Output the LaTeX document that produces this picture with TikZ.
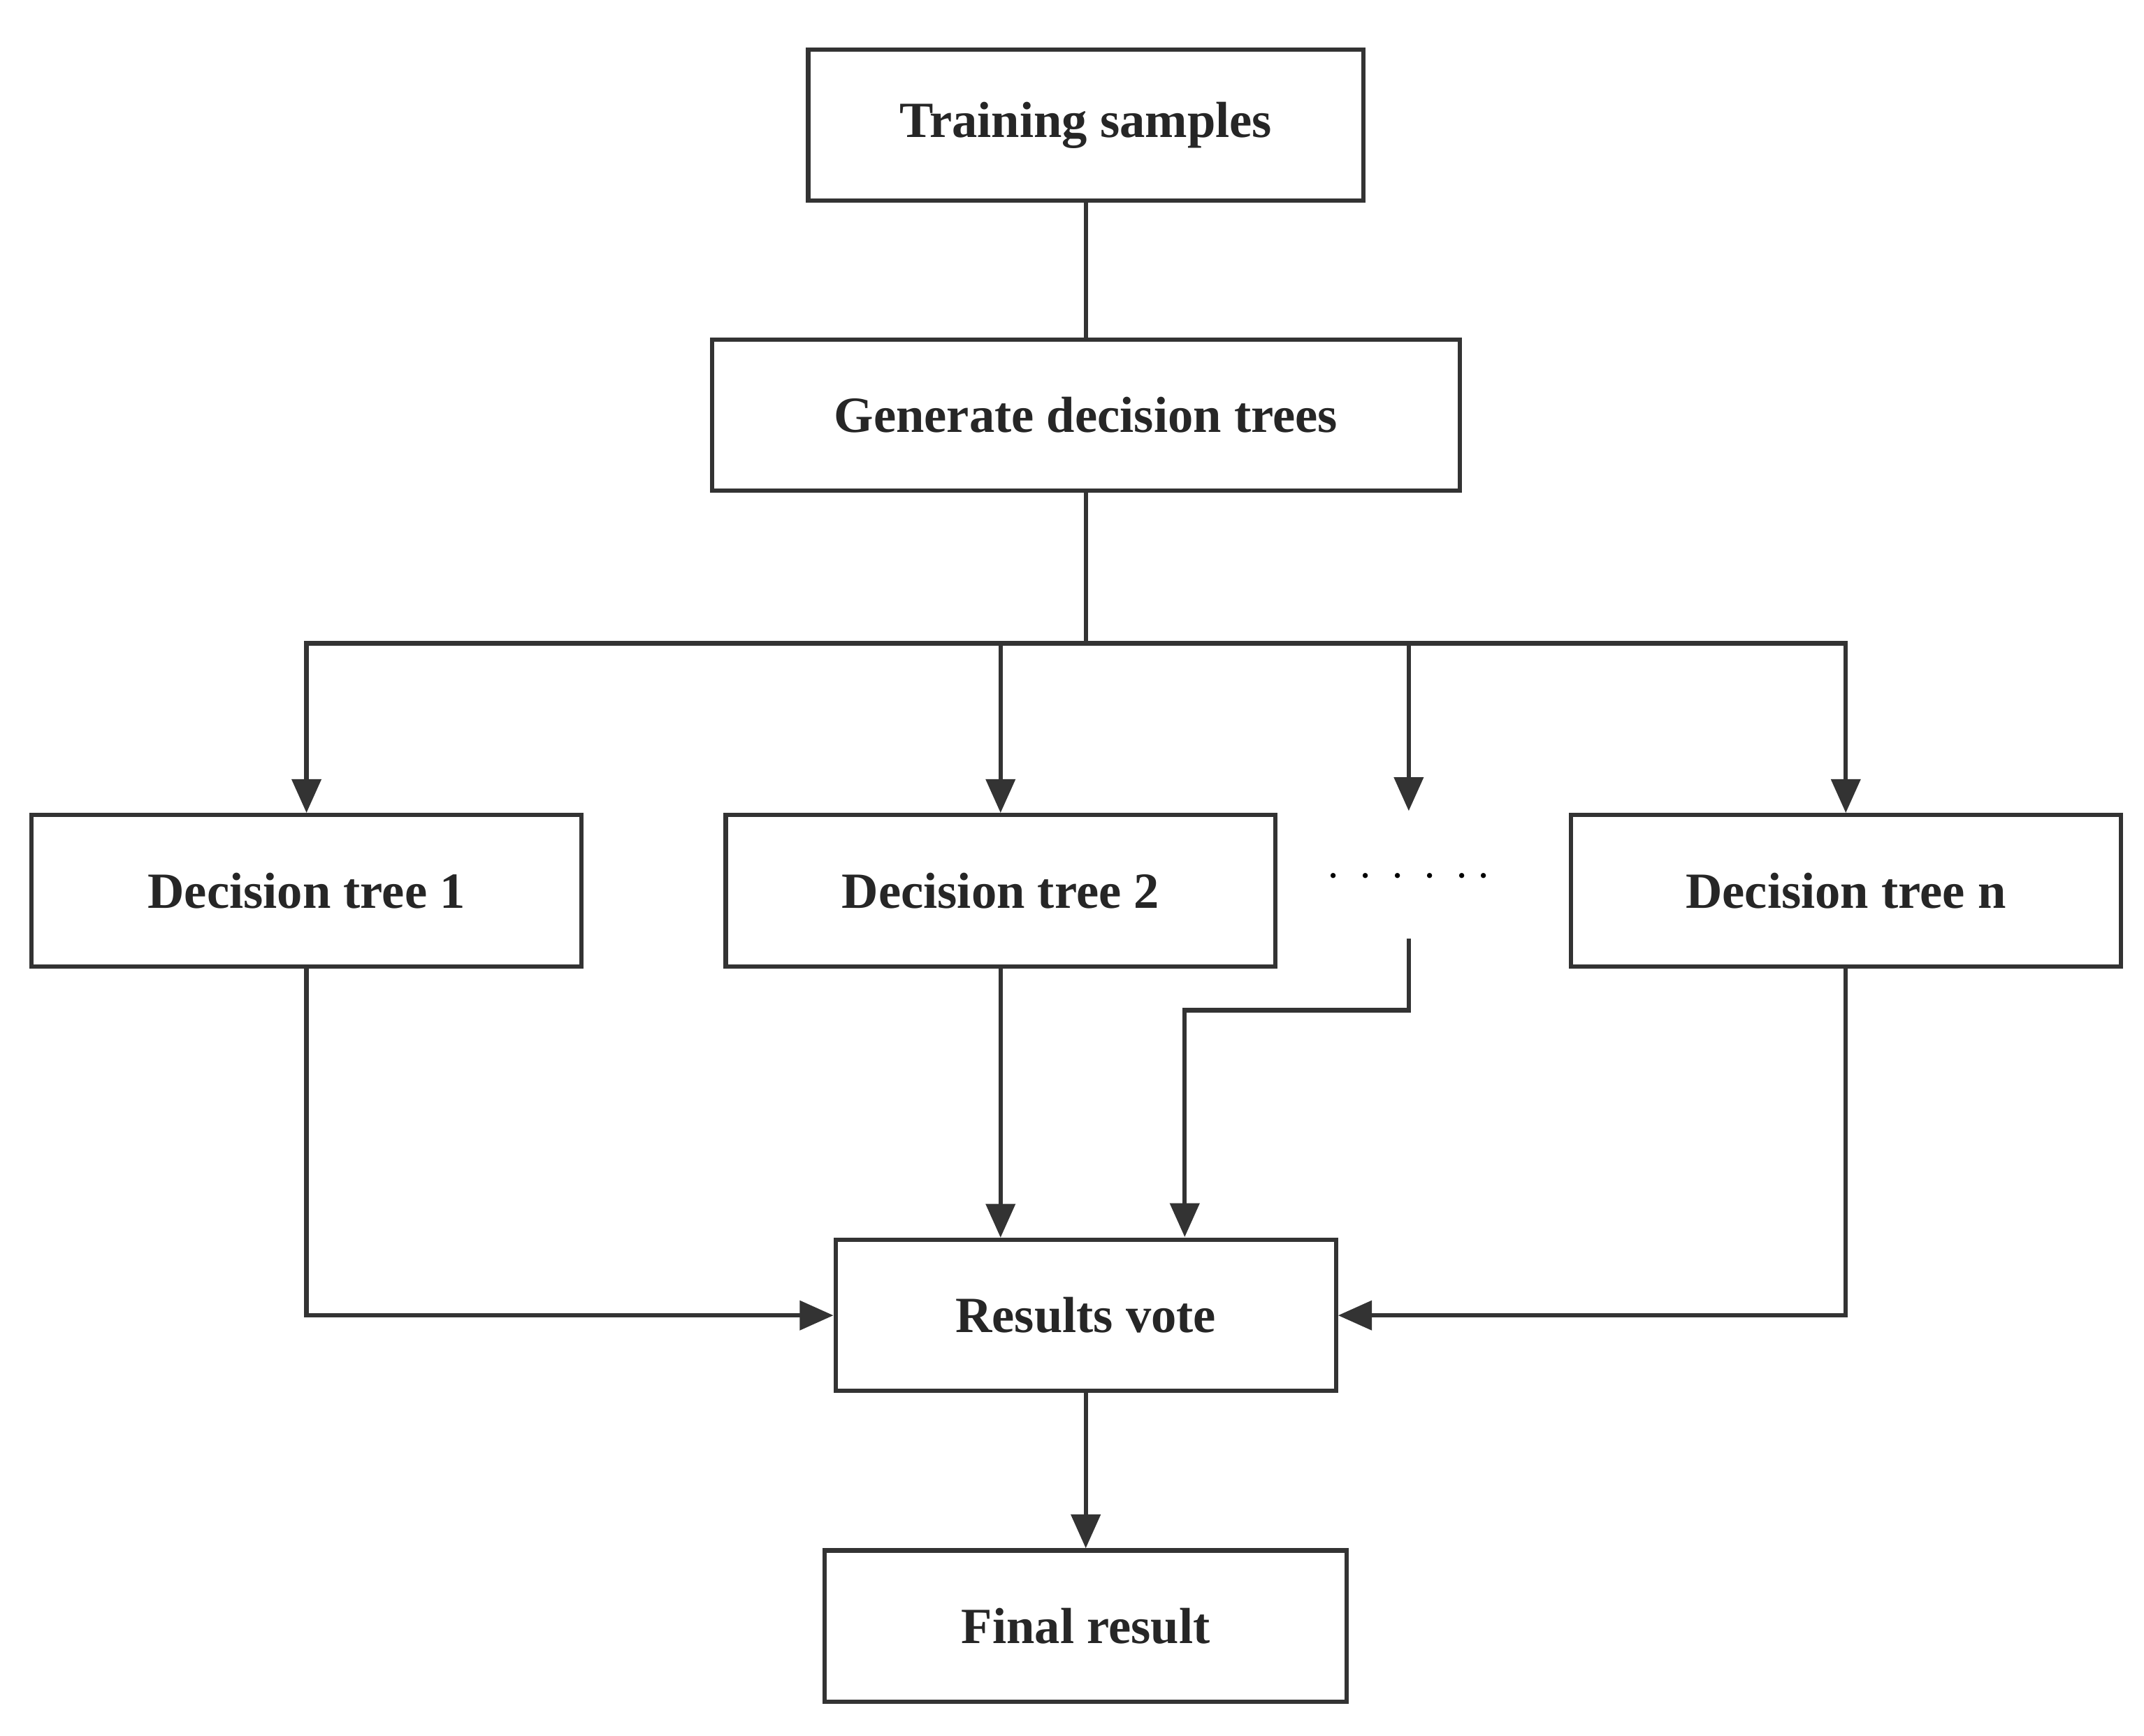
\documentclass[tikz,border=0pt]{standalone}
\usepackage{fontspec}
\setmainfont{Liberation Serif}
\usetikzlibrary{arrows.meta}

\begin{document}
\begin{tikzpicture}[>={Triangle[length=7pt,width=6pt]},line width=0.9pt,draw=black!80,
  box/.style={draw=black!80,rectangle,minimum height=1.1cm,font=\fontsize{10.5}{12}\selectfont\bfseries,text=black!85},
  link/.style={draw=black!80,line width=0.9pt}]
\useasboundingbox (0,0) rectangle (15.6,-12.63);

\node[box,minimum width=4.04cm](train) at (7.9,-0.91){Training samples};
\node[box,minimum width=5.44cm](gen) at (7.9,-3.02){Generate decision trees};
\node[box,minimum width=4cm](dt1) at (2.23,-6.48){Decision tree 1};
\node[box,minimum width=4cm](dt2) at (7.28,-6.48){Decision tree 2};
\node[font=\bfseries](dots) at (10.25,-6.38){$\cdot\,\cdot\,\cdot\,\cdot\,\cdot\,\cdot$};
\node[box,minimum width=4cm](dtn) at (13.43,-6.48){Decision tree n};
\node[box,minimum width=3.64cm](vote) at (7.9,-9.57){Results vote};
\node[box,minimum width=3.8cm](final) at (7.9,-11.83){Final result};

\coordinate (split) at (7.9,-4.68);
\coordinate (dotsin) at (10.25,-5.9);
\coordinate (dotsout) at (10.25,-6.83);

\draw[link] (train) -- (gen);
\draw[link] (gen) -- (split);
\draw[link,->] (split) -| (dt1);
\draw[link,->] (split) -| (dt2);
\draw[link,->] (split) -| (dotsin);
\draw[link,->] (split) -| (dtn);

\draw[link,->] (dt1) |- (vote);
\draw[link,->] (dt2) -- (dt2|-vote.north);
\draw[link,->] (dotsout) |- (8.62,-7.35) -- (8.62,-9.0);
\draw[link,->] (dtn) |- (vote);
\draw[link,->] (vote) -- (final);

\end{tikzpicture}
\end{document}
